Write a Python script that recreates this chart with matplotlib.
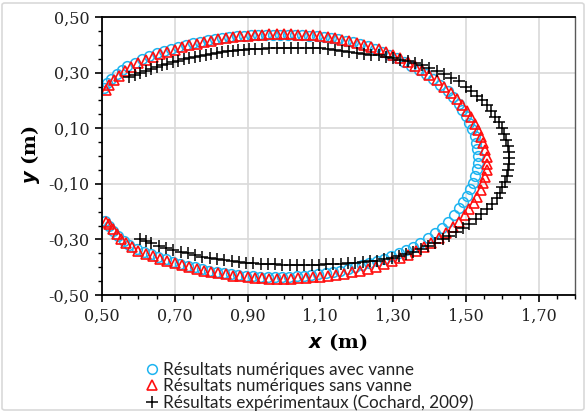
import matplotlib
matplotlib.use("Agg")
import matplotlib.pyplot as plt
from matplotlib.ticker import MultipleLocator, FuncFormatter
from matplotlib.patches import FancyBboxPatch

# Numerical results with valve (upper arc then lower arc)
x_avec = [0.505, 0.515, 0.525, 0.540, 0.555, 0.570, 0.590, 0.610, 0.630, 0.650,
          0.670, 0.690, 0.710, 0.730, 0.750, 0.770, 0.790, 0.810, 0.830, 0.850,
          0.870, 0.890, 0.910, 0.930, 0.950, 0.970, 0.990, 1.010, 1.030, 1.050,
          1.070, 1.090, 1.110, 1.130, 1.150, 1.170, 1.190, 1.210, 1.230, 1.250,
          1.270, 1.290, 1.310, 1.330, 1.350, 1.370, 1.390, 1.410, 1.430, 1.450,
          1.465, 1.480, 1.490, 1.500, 1.510, 1.518, 1.524, 1.529, 1.532, 1.534,
          1.534, 1.530, 1.526, 1.520, 1.512, 1.503, 1.493, 1.482, 1.468, 1.452,
          1.434, 1.415, 1.395, 1.375, 1.355, 1.335, 1.315, 1.295, 1.275, 1.255,
          1.235, 1.215, 1.195, 1.175, 1.155, 1.135, 1.115, 1.095, 1.075, 1.055,
          1.035, 1.015, 0.995, 0.975, 0.955, 0.935, 0.915, 0.895, 0.875, 0.855,
          0.835, 0.815, 0.795, 0.775, 0.755, 0.735, 0.715, 0.695, 0.675, 0.655,
          0.635, 0.615, 0.595, 0.575, 0.560, 0.545, 0.530, 0.518, 0.508]
y_avec = [0.245, 0.262, 0.278, 0.295, 0.309, 0.322, 0.336, 0.349, 0.360, 0.369,
          0.378, 0.386, 0.393, 0.400, 0.406, 0.411, 0.416, 0.420, 0.424, 0.427,
          0.430, 0.432, 0.434, 0.435, 0.436, 0.437, 0.437, 0.437, 0.436, 0.435,
          0.433, 0.431, 0.428, 0.424, 0.420, 0.415, 0.409, 0.402, 0.394, 0.385,
          0.375, 0.364, 0.352, 0.339, 0.325, 0.310, 0.294, 0.276, 0.256, 0.234,
          0.212, 0.188, 0.166, 0.144, 0.120, 0.096, 0.072, 0.048, 0.024, 0.000,
          -0.024, -0.048, -0.072, -0.096, -0.120, -0.144, -0.166, -0.188, -0.212, -0.236,
          -0.258, -0.278, -0.296, -0.312, -0.326, -0.339, -0.350, -0.360, -0.369, -0.378,
          -0.386, -0.393, -0.400, -0.406, -0.412, -0.417, -0.421, -0.425, -0.428, -0.431,
          -0.433, -0.435, -0.436, -0.436, -0.436, -0.435, -0.433, -0.431, -0.428, -0.425,
          -0.421, -0.417, -0.412, -0.406, -0.400, -0.394, -0.387, -0.380, -0.372, -0.363,
          -0.354, -0.344, -0.333, -0.320, -0.305, -0.289, -0.270, -0.252, -0.235]

# Numerical results without valve
x_sans = [0.510, 0.520, 0.532, 0.546, 0.562, 0.580, 0.600, 0.620, 0.640, 0.660,
          0.680, 0.700, 0.720, 0.740, 0.760, 0.780, 0.800, 0.820, 0.840, 0.860,
          0.880, 0.900, 0.920, 0.940, 0.960, 0.980, 1.000, 1.020, 1.040, 1.060,
          1.080, 1.100, 1.120, 1.140, 1.160, 1.180, 1.200, 1.220, 1.240, 1.260,
          1.280, 1.300, 1.320, 1.340, 1.360, 1.380, 1.400, 1.420, 1.440, 1.460,
          1.475, 1.490, 1.503, 1.515, 1.525, 1.534, 1.542, 1.548, 1.553, 1.557,
          1.559, 1.558, 1.554, 1.548, 1.541, 1.532, 1.522, 1.510, 1.497, 1.482,
          1.465, 1.446, 1.426, 1.405, 1.384, 1.362, 1.340, 1.318, 1.296, 1.274,
          1.252, 1.230, 1.208, 1.186, 1.164, 1.142, 1.120, 1.100, 1.080, 1.060,
          1.040, 1.020, 1.000, 0.980, 0.960, 0.940, 0.920, 0.900, 0.880, 0.860,
          0.840, 0.820, 0.800, 0.780, 0.760, 0.740, 0.720, 0.700, 0.680, 0.660,
          0.640, 0.620, 0.600, 0.582, 0.566, 0.552, 0.540, 0.529, 0.519, 0.512]
y_sans = [0.237, 0.255, 0.272, 0.289, 0.305, 0.320, 0.334, 0.346, 0.357, 0.366,
          0.375, 0.383, 0.391, 0.398, 0.404, 0.410, 0.415, 0.420, 0.424, 0.427,
          0.430, 0.433, 0.435, 0.437, 0.438, 0.439, 0.439, 0.438, 0.437, 0.436,
          0.434, 0.431, 0.428, 0.424, 0.419, 0.414, 0.408, 0.401, 0.393, 0.384,
          0.374, 0.363, 0.351, 0.338, 0.324, 0.309, 0.292, 0.272, 0.250, 0.226,
          0.206, 0.184, 0.162, 0.139, 0.115, 0.092, 0.068, 0.045, 0.021, -0.003,
          -0.027, -0.050, -0.074, -0.098, -0.122, -0.146, -0.169, -0.192, -0.214, -0.236,
          -0.257, -0.277, -0.296, -0.313, -0.329, -0.343, -0.356, -0.368, -0.379, -0.389,
          -0.398, -0.406, -0.413, -0.419, -0.424, -0.428, -0.432, -0.435, -0.437, -0.439,
          -0.440, -0.441, -0.441, -0.441, -0.441, -0.440, -0.438, -0.436, -0.433, -0.430,
          -0.426, -0.422, -0.417, -0.412, -0.406, -0.400, -0.393, -0.386, -0.378, -0.370,
          -0.361, -0.351, -0.340, -0.328, -0.314, -0.298, -0.281, -0.263, -0.246, -0.237]

# Experimental results (Cochard, 2009)
x_exp = [0.575, 0.590, 0.605, 0.620, 0.635, 0.650, 0.665, 0.680, 0.695, 0.710,
         0.725, 0.740, 0.755, 0.770, 0.785, 0.800, 0.815, 0.830, 0.845, 0.860,
         0.875, 0.890, 0.905, 0.920, 0.940, 0.960, 0.980, 1.000, 1.020, 1.040,
         1.060, 1.080, 1.100, 1.120, 1.140, 1.160, 1.180, 1.200, 1.220, 1.240,
         1.260, 1.280, 1.300, 1.320, 1.340, 1.360, 1.380, 1.400, 1.420, 1.440,
         1.460, 1.480, 1.500, 1.515, 1.530, 1.545, 1.558, 1.570, 1.580, 1.590,
         1.598, 1.605, 1.611, 1.615, 1.618, 1.619, 1.619,
         1.617, 1.613, 1.607, 1.600, 1.593, 1.585, 1.572, 1.558, 1.543, 1.527,
         1.510, 1.492, 1.474, 1.455, 1.436, 1.416, 1.396, 1.376, 1.356, 1.336,
         1.316, 1.296, 1.276, 1.256, 1.236, 1.216, 1.196, 1.176, 1.156, 1.136,
         1.116, 1.096, 1.076, 1.056, 1.036, 1.016, 0.996, 0.976, 0.956, 0.936,
         0.916, 0.896, 0.876, 0.856, 0.836, 0.816, 0.796, 0.776, 0.756, 0.736,
         0.716, 0.696, 0.676, 0.656, 0.636, 0.620, 0.605]
y_exp = [0.285, 0.292, 0.299, 0.306, 0.313, 0.320, 0.326, 0.332, 0.338, 0.343,
         0.348, 0.353, 0.357, 0.361, 0.365, 0.368, 0.371, 0.374, 0.377, 0.379,
         0.381, 0.383, 0.384, 0.385, 0.386, 0.387, 0.388, 0.388, 0.388, 0.388,
         0.388, 0.388, 0.387, 0.385, 0.383, 0.379, 0.375, 0.371, 0.367, 0.364,
         0.362, 0.357, 0.352, 0.347, 0.342, 0.335, 0.328, 0.318, 0.307, 0.295,
         0.282, 0.268, 0.250, 0.234, 0.217, 0.200, 0.182, 0.162, 0.142, 0.122,
         0.102, 0.080, 0.058, 0.036, 0.014, -0.008, -0.030,
         -0.052, -0.072, -0.092, -0.112, -0.132, -0.152, -0.172, -0.192, -0.210, -0.228,
         -0.243, -0.258, -0.272, -0.286, -0.299, -0.312, -0.324, -0.335, -0.345, -0.354,
         -0.361, -0.367, -0.372, -0.376, -0.379, -0.382, -0.384, -0.386, -0.388, -0.389,
         -0.390, -0.391, -0.392, -0.392, -0.392, -0.392, -0.391, -0.390, -0.389, -0.388,
         -0.386, -0.384, -0.381, -0.378, -0.375, -0.371, -0.367, -0.362, -0.356, -0.350,
         -0.344, -0.337, -0.330, -0.322, -0.314, -0.307, -0.300]

labels = ["Résultats numériques avec vanne",
          "Résultats numériques sans vanne",
          "Résultats expérimentaux (Cochard, 2009)"]

W, H = 587, 412
fig = plt.figure(figsize=(W / 100, H / 100), dpi=100)
fig.patch.set_facecolor("white")

# light chart-area border like the spreadsheet export
fig.patches.append(FancyBboxPatch((2 / W, 2 / H), 1 - 5 / W, 1 - 5 / H,
                                  boxstyle="round,pad=0,rounding_size=0.005",
                                  transform=fig.transFigure, fill=False,
                                  edgecolor="#d9d9d9", linewidth=1.2))

ax = fig.add_axes([102 / W, 1 - 295 / H, (575 - 102) / W, (295 - 17) / H])

ax.plot(x_avec, y_avec, linestyle="none", marker="o", markersize=7,
        markerfacecolor="none", markeredgecolor="#1eb4f0", markeredgewidth=1.1,
        label=labels[0])
ax.plot(x_sans, y_sans, linestyle="none", marker="^", markersize=7.5,
        markerfacecolor="none", markeredgecolor="#ff1010", markeredgewidth=1.2,
        label=labels[1])
ax.plot(x_exp, y_exp, linestyle="none", marker="+", markersize=9,
        color="black", markeredgewidth=1.1, label=labels[2])

ax.set_xlim(0.5, 1.8)
ax.set_ylim(-0.5, 0.5)
ax.set_xticks([0.5, 0.7, 0.9, 1.1, 1.3, 1.5, 1.7])
ax.set_yticks([-0.5, -0.3, -0.1, 0.1, 0.3, 0.5])
ax.xaxis.set_minor_locator(MultipleLocator(0.05))
ax.yaxis.set_minor_locator(MultipleLocator(0.05))
comma = FuncFormatter(lambda v, p: f"{v:.2f}".replace(".", ",").replace("-0,00", "0,00"))
ax.xaxis.set_major_formatter(comma)
ax.yaxis.set_major_formatter(comma)

ax.grid(True, which="major", color="#d9d9d9", linewidth=1.2)
ax.set_axisbelow(True)
ax.tick_params(which="major", direction="out", length=5, width=1.2, color="black",
               labelsize=11.5, pad=4)
ax.tick_params(which="minor", direction="out", length=3, width=1.0, color="black")
for lab in ax.get_xticklabels() + ax.get_yticklabels():
    lab.set_family("DejaVu Serif")
    lab.set_color("#222222")

for side in ["left", "bottom", "top"]:
    ax.spines[side].set_color("black")
    ax.spines[side].set_linewidth(1.3)
ax.spines["right"].set_color("#595959")
ax.spines["right"].set_linewidth(1.0)

fig.text(338 / W, 1 - 342 / H, r"$\boldsymbol{x}$ (m)", ha="center", va="center",
         fontsize=14, fontweight="bold", family="DejaVu Serif")
fig.text(30 / W, 1 - 155 / H, r"$\boldsymbol{y}$ (m)", ha="center", va="center",
         fontsize=14, fontweight="bold", family="DejaVu Serif", rotation=90)

leg = fig.legend(loc="upper left", bbox_to_anchor=(137 / W, 1 - 353 / H),
                 frameon=False, borderpad=0, handlelength=0.8, handletextpad=0.25,
                 labelspacing=0.02, prop={"family": "Lato", "size": 12.3})
for t in leg.get_texts():
    t.set_color("#222222")

fig.savefig("out.png", dpi=100)
